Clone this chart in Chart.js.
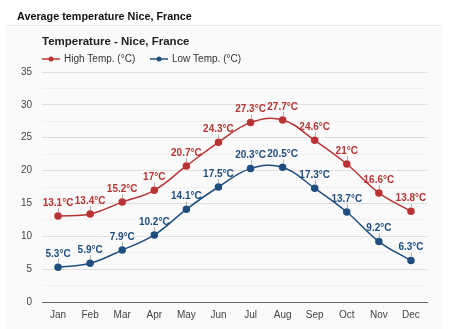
<!DOCTYPE html>
<html>
<head>
<meta charset="utf-8">
<script src="https://cdn.jsdelivr.net/npm/chart.js@4.4.1/dist/chart.umd.min.js"></script>
<style>
  html, body { margin: 0; padding: 0; background: #fff; }
  #wrap { position: relative; width: 451px; height: 329px; }
</style>
</head>
<body>
<div id="wrap"><canvas id="c" width="451" height="329"></canvas></div>
<script>
const pageTitle = "Average temperature Nice, France";
const chartTitle = "Temperature - Nice, France";
const months = ["Jan","Feb","Mar","Apr","May","Jun","Jul","Aug","Sep","Oct","Nov","Dec"];
const highLabel = "High Temp. (°C)";
const lowLabel = "Low Temp. (°C)";
const highTemps = [13.1, 13.4, 15.2, 17, 20.7, 24.3, 27.3, 27.7, 24.6, 21, 16.6, 13.8];
const lowTemps = [5.3, 5.9, 7.9, 10.2, 14.1, 17.5, 20.3, 20.5, 17.3, 13.7, 9.2, 6.3];

const RED = '#b83434';
const BLUE = '#1f4e7e';
const FONT = '"Liberation Sans", Arial, sans-serif';

const frame = {
  id: 'frame',
  beforeDraw(chart) {
    const ctx = chart.ctx;
    ctx.save();
    ctx.fillStyle = '#ffffff';
    ctx.fillRect(0, 0, chart.width, chart.height);
    ctx.fillStyle = '#fafafa';
    ctx.fillRect(6, 27, 436, chart.height - 27);
    ctx.strokeStyle = '#e4e4e4';
    ctx.lineWidth = 1;
    ctx.beginPath(); ctx.moveTo(6, 25.5); ctx.lineTo(442, 25.5); ctx.stroke();
    ctx.fillStyle = '#111';
    ctx.font = 'bold 10.8px ' + FONT;
    ctx.textBaseline = 'middle';
    ctx.textAlign = 'left';
    ctx.fillText(pageTitle, 17, 17);
    ctx.font = 'bold 11.5px ' + FONT;
    ctx.fillStyle = '#222';
    ctx.fillText(chartTitle, 42, 42);
    // legend
    ctx.font = '10px ' + FONT;
    const items = [[highLabel, RED, 42], [lowLabel, BLUE, 150]];
    items.forEach(([txt, col, x]) => {
      ctx.strokeStyle = col; ctx.lineWidth = 1.5;
      ctx.beginPath(); ctx.moveTo(x, 59); ctx.lineTo(x + 18, 59); ctx.stroke();
      ctx.fillStyle = col;
      ctx.beginPath(); ctx.arc(x + 9, 59, 2.5, 0, Math.PI * 2); ctx.fill();
      ctx.fillStyle = '#333';
      ctx.fillText(txt, x + 22, 59.5);
    });
    ctx.restore();
  }
};

const dataLabels = {
  id: 'dataLabels',
  afterDatasetsDraw(chart) {
    const ctx = chart.ctx;
    ctx.save();
    ctx.font = 'bold 10px ' + FONT;
    ctx.textAlign = 'center';
    ctx.textBaseline = 'middle';
    chart.data.datasets.forEach((ds, i) => {
      const meta = chart.getDatasetMeta(i);
      meta.data.forEach((pt, j) => {
        ctx.strokeStyle = '#b0b0b0';
        ctx.lineWidth = 1;
        ctx.beginPath();
        ctx.moveTo(Math.round(pt.x) + 0.5, pt.y - 4);
        ctx.lineTo(Math.round(pt.x) + 0.5, pt.y - 8);
        ctx.stroke();
        ctx.fillStyle = ds.borderColor;
        ctx.fillText(ds.data[j] + '°C', pt.x, pt.y - 13);
      });
    });
    ctx.restore();
  }
};

new Chart(document.getElementById('c'), {
  type: 'line',
  data: {
    labels: months,
    datasets: [
      { label: highLabel, data: highTemps, borderColor: RED, backgroundColor: RED,
        borderWidth: 1.5, pointRadius: 3, pointHoverRadius: 3, tension: 0.4, fill: false },
      { label: lowLabel, data: lowTemps, borderColor: BLUE, backgroundColor: BLUE,
        borderWidth: 1.5, pointRadius: 3, pointHoverRadius: 3, tension: 0.4, fill: false }
    ]
  },
  options: {
    responsive: false,
    animation: false,
    devicePixelRatio: 1,
    layout: { padding: { left: 12, right: 24, top: 72, bottom: 8 } },
    plugins: { legend: { display: false }, title: { display: false }, tooltip: { enabled: false } },
    scales: {
      x: {
        offset: true,
        grid: { display: false, drawTicks: false },
        border: { display: true, color: '#666', width: 1 },
        ticks: { color: '#444', font: { family: FONT, size: 10 }, padding: 7, maxRotation: 0 },
        afterFit(s) { s.height = 19; }
      },
      y: {
        min: 0, max: 35,
        border: { display: false },
        grid: {
          drawTicks: false,
          color: (c) => (c.tick && c.tick.value % 5 === 0) ? '#e0e0e0' : '#f0f0f0'
        },
        ticks: {
          stepSize: 2.5, padding: 10, color: '#444', font: { family: FONT, size: 10 },
          callback: (v) => (v % 5 === 0 ? v : '')
        },
        afterFit(s) { s.width = 30; }
      }
    }
  },
  plugins: [frame, dataLabels]
});
</script>
</body>
</html>
